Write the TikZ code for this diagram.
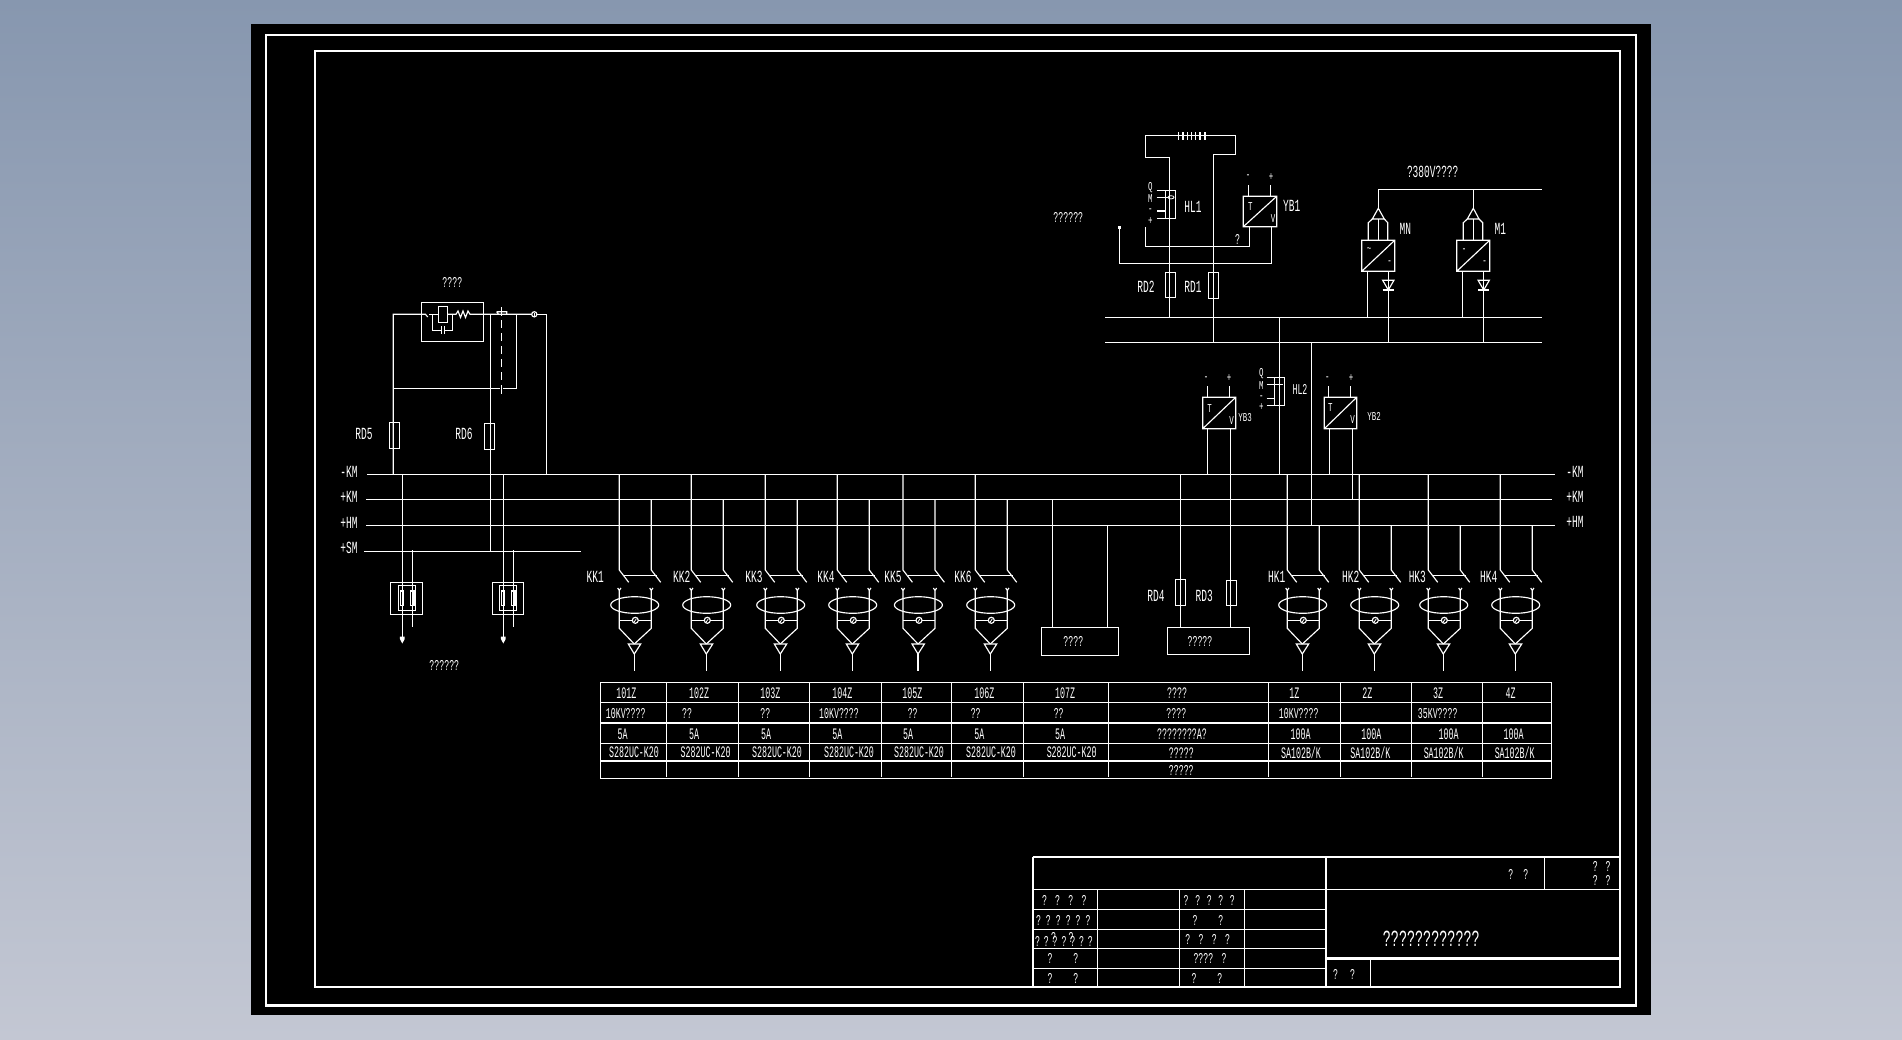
\documentclass[tikz,border=0pt]{standalone}
\usepackage{fontspec}
\setmainfont{Liberation Mono}
\definecolor{bgtop}{HTML}{8797AF}
\definecolor{bgbot}{HTML}{C3C7D3}
\newcommand{\gk}[1]{\kern#1pt\relax}
% feeder: x1, x2, bus y of second lead, label x, label, name
\newcommand{\feeder}[6]{%
  \draw[wire] (#1,474.3) -- (#1,570) -- (#1+9.4,582.3);
  \draw[wire] (#2,#3) -- (#2,570) -- (#2+9.4,582.3);
  \draw[wire] (#1+5,575.7) -- (#2+5.4,575.7);
  \node (lab#6) at (#4,577) [cadA] {#5};
  \draw[wire] (#1-1.6,588) -- (#1,590.5) -- (#1+1.6,588) (#1,590.5) -- (#1,628.3) -- (#1+15,644);
  \draw[wire] (#2-1.6,588) -- (#2,590.5) -- (#2+1.6,588) (#2,590.5) -- (#2,628.3) -- (#1+15,644);
  \draw[wire] (#1+15.4,605) ellipse [x radius=24pt,y radius=8.3pt];
  \draw[wire] (#1,620.3) -- (#2,620.3);
  \filldraw[wire,fill=black] (#1+16,620.3) circle [radius=3pt];
  \draw[thinwire] (#1+15,621.8) -- (#1+17,618.8);
  \draw[wire] (#1+9,644) -- (#1+21.4,644) -- (#1+15,654) -- cycle;
  \draw[wire] (#1+15,654) -- (#1+15,670.7);
}
% relay / meter symbol: x1, x2, y1, y2
\newcommand{\transducer}[4]{\draw[wire] (#1,#3) rectangle (#2,#4) (#1,#4) -- (#2,#3);}
\tikzset{
  wire/.style={draw=white,line width=1.15pt},
  thinwire/.style={draw=white,line width=.8pt},
  dashwire/.style={draw=white,line width=1.15pt,dash pattern=on 8pt off 5pt},
  framewire/.style={draw=white,line width=2.4pt},
  cadbase/.style={text=white,inner sep=0pt,transform shape},
  cadA/.style={cadbase,xscale=.56,font=\fontsize{17}{17}\selectfont},
  cadB/.style={cadbase,xscale=.52,font=\fontsize{16}{16}\selectfont},
  cadC/.style={cadbase,xscale=.55,font=\fontsize{15}{15}\selectfont},
  cadD/.style={cadbase,xscale=.62,font=\fontsize{12}{12}\selectfont},
  cadE/.style={cadbase,xscale=.585,font=\fontsize{23}{23}\selectfont},
}
\begin{document}
\begin{tikzpicture}[x=1pt,y=-1pt]
\useasboundingbox (0,0) rectangle (1902,1039);
\shade[top color=bgtop,bottom color=bgbot] (0,0) rectangle (1902,1039);
\fill[black] (251,24) rectangle (1651,1015);
\draw[framewire] (265.7,35) rectangle (1636,1005.6);
\draw[framewire] (315,51) rectangle (1620,987);

% ---- buses
\draw[wire] (367,474.3) -- (1555,474.3);
\draw[wire] (366,499.3) -- (1552,499.3);
\draw[wire] (366,525.3) -- (1555,525.3);
\draw[wire] (364,551.3) -- (581,551.3);
\node (lKMl) at (349,472) [cadA] {-KM};
\node (lKPl) at (349,497) [cadA] {+KM};
\node (lHMl) at (349,523) [cadA] {+HM};
\node (lSMl) at (349,547.5) [cadA] {+SM};
\node (lKMr) at (1575,472) [cadA] {-KM};
\node (lKPr) at (1575,497) [cadA] {+KM};
\node (lHMr) at (1575,522) [cadA] {+HM};

% ---- left relay circuit
\draw[wire] (421.3,302.3) rectangle (483.7,341.7);
\draw[wire] (438.3,306.7) rectangle (447.7,322.7);
\draw[wire] (546.7,474.3) -- (546.7,314.3) -- (537,314.3);
\draw[wire] (534.3,314.3) circle [radius=2.6pt];
\draw[thinwire] (534.3,312.8) -- (534.3,315.8);
\draw[wire] (531.7,314.3) -- (470,314.3) -- (468,311) -- (465.5,317.5) -- (463,311) -- (460.5,317.5) -- (458,311) -- (456,314.3) -- (447.7,314.3);
\draw[wire] (393.3,474.3) -- (393.3,314.3) -- (425.5,314.3) -- (427.7,317);
\draw[wire] (429,314.3) -- (438.3,314.3);
\draw[wire] (432.3,314.3) -- (432.3,330.3) -- (441.5,330.3) (444.5,330.3) -- (452.3,330.3) -- (452.3,314.3);
\draw[wire] (441.5,326.3) -- (441.5,334.3) (444.5,326.3) -- (444.5,334.3);
\draw[wire] (490.7,314.3) -- (490.7,551.3);
\draw[wire] (393.3,388.3) -- (499.5,388.3) (503,388.3) -- (516.7,388.3) -- (516.7,314.3);
\draw[wire] (501.7,386) -- (501.7,393.5);
\draw[dashwire] (501.7,307) -- (501.7,386);
\draw[wire] (496.7,311.7) -- (506.7,311.7) -- (506.7,314.3) (496.7,311.7) -- (498.5,314.3);
\draw[wire] (501.7,307) -- (501.7,316);
\draw[wire] (389.3,422.3) rectangle (399.7,448.7);
\draw[wire] (484.3,423.3) rectangle (494.7,449.3);
\node (lRD5) at (364,434.3) [cadA] {RD5};
\node (lRD6) at (464,434.3) [cadA] {RD6};
\node (lRelay) at (452.3,282.3) [cadC] {????};
\node (lContact) at (444.3,665) [cadC] {??????};

% ---- two lower left units
\foreach \pa/\pb/\oA/\oB/\iA/\iB in {402.3/412.3/390.3/422.7/398.3/415.7, 503.3/513.3/492.3/523.7/499.3/516.7}{
  \draw[wire] (\pa,474.3) -- (\pa,637);
  \fill[white] (\pa-2.4,636.5) -- (\pa+2.4,636.5) -- (\pa+2.4,639) -- (\pa,643.5) -- (\pa-2.4,639) -- cycle;
  \draw[wire] (\pb,550) -- (\pb,626.7);
  \draw[wire] (\oA,582.3) rectangle (\oB,614.3);
  \draw[wire] (\iA,585.7) rectangle (\iB,610.3);
  \draw[wire] (\pa-1.4,591) rectangle (\pa+1.4,605.7);
  \draw[wire] (\pb-1.7,591) rectangle (\pb+1.7,605.7);
}

% ---- top battery / monitor
\draw[wire] (1206,135.3) -- (1235.7,135.3) -- (1235.7,154.3) -- (1213.3,154.3) -- (1213.3,342.3);
\draw[wire] (1206,135.3) -- (1178,135.3) -- (1145.3,135.3) -- (1145.3,157.3) -- (1169.3,157.3) -- (1169.3,317.3);
\foreach \ba/\bb in {1178.2/1179.4,1181.7/1184,1186.6/1187.6,1190.6/1192,1194.8/1195.8,1199/1201,1204.4/1205.6}
  \fill[white] (\ba,131.7) rectangle (\bb,140);
\draw[wire] (1165.7,190.3) rectangle (1175.7,218.3);
\draw[wire] (1156.7,190.3) -- (1165.7,190.3) (1156.7,197.3) -- (1168,197.3) (1157,211) -- (1165.7,211) (1157,218.3) -- (1165.7,218.3);
\draw[thinwire] (1171,197.3) ellipse [x radius=3pt,y radius=1.6pt];
\node (lQ1) at (1150.3,187.3) [cadD] {Q};
\node (lM1) at (1150.3,198.7) [cadD] {M};
\node (lN1) at (1150.3,211) [cadD] {-};
\node (lP1) at (1150.3,221) [cadD] {+};
\node (lHL1) at (1193,207) [cadA] {HL1};
\transducer{1243.3}{1276.7}{196.3}{226.7}
\draw[wire] (1248.7,185) -- (1248.7,196.3) (1270.7,185) -- (1270.7,196.3);
\node (lmY1) at (1248,177) [cadD] {-};
\node (lpY1) at (1271,177) [cadD] {+};
\node (lT1) at (1250.3,206.7) [cadD] {T};
\node (lV1) at (1273,219) [cadD] {V};
\node (lYB1) at (1291.7,206.3) [cadA] {YB1};
\draw[wire] (1249.7,226.7) -- (1249.7,246.3) -- (1145.3,246.3) -- (1145.3,226.7);
\draw[wire] (1271.3,226.7) -- (1271.3,263.3) -- (1119.3,263.3) -- (1119.3,226.7);
\fill[white] (1118,226) rectangle (1120.6,228.5);
\node (lQmark) at (1237.7,239.3) [cadC] {?};
\node (lMonitor) at (1068.3,217) [cadC] {??????};
\draw[wire] (1165.3,272.7) rectangle (1175.7,297.7);
\draw[wire] (1208.3,272.7) rectangle (1218.7,298.7);
\node (lRD2) at (1146,287.3) [cadA] {RD2};
\node (lRD1) at (1193,287.3) [cadA] {RD1};
\draw[wire] (1105,317.3) -- (1542,317.3);
\draw[wire] (1105,342.3) -- (1542,342.3);
\draw[wire] (1279.3,317.3) -- (1279.3,474.3);
\draw[wire] (1311.7,342.3) -- (1311.7,525.3);

% ---- rectifier modules
\draw[wire] (1378.3,189.3) -- (1542,189.3);
\node (l380) at (1432.7,172.3) [cadA] {?380V????};
\foreach \cx/\bxa/\bxb/\lda/\ldb/\dia/\dib/\tra/\trb/\sym/\nm in {1378.3/1361.7/1394.7/1367.3/1388.3/1368.3/1387.7/1372.3/1384.3/\textasciitilde/MN, 1473.3/1456.7/1489.7/1462.7/1483.7/1463.3/1482.7/1467.3/1479/-/M1}{
  \draw[wire] (\cx,189.3) -- (\cx,208.3);
  \draw[wire] (\cx,208.3) -- (\tra,219) -- (\trb,219) -- cycle;
  \draw[wire] (\cx,219) -- (\cx,240.3);
  \draw[wire] (\tra,219) -- (\dia,222.7) -- (\dia,240.3);
  \draw[wire] (\trb,219) -- (\dib,222.7) -- (\dib,240.3);
  \transducer{\bxa}{\bxb}{240.3}{271.3}
  \draw[wire] (\lda,271.3) -- (\lda,317.3);
  \draw[wire] (\ldb,271.3) -- (\ldb,342.3);
  \draw[wire] (\ldb-5.6,280.3) -- (\ldb+5.6,280.3) -- (\ldb,290) -- cycle;
  \draw[wire] (\ldb-5.6,290) -- (\ldb+5.6,290);
  \node (lsym\nm) at (\bxa+7.5,250.5) [cadD] {\sym};
  \node (lneg\nm) at (\bxb-5,263) [cadD] {-};
  \node (lab\nm) at (\bxb+10.7,229) [cadA] {\nm};
}

% ---- HL2, YB3, YB2
\draw[wire] (1274.3,377.3) rectangle (1284.7,405.3);
\draw[wire] (1266.7,377.3) -- (1274.3,377.3) (1266.7,384.3) -- (1283,384.3) (1266.7,398.3) -- (1274.3,398.3) (1266.7,405.3) -- (1274.3,405.3);
\node (lQ2) at (1261.3,373.3) [cadD] {Q};
\node (lM2) at (1261.3,385.3) [cadD] {M};
\node (lN2) at (1261.3,398) [cadD] {-};
\node (lP2) at (1261.3,407) [cadD] {+};
\node (lHL2) at (1300,389.7) [cadC] {HL2};
\transducer{1202.7}{1235.7}{397.3}{428.7}
\draw[wire] (1207.3,386) -- (1207.3,397.3) (1229.3,386) -- (1229.3,397.3);
\node (lmY3) at (1206,378.3) [cadD] {-};
\node (lpY3) at (1229,378.3) [cadD] {+};
\node (lT3) at (1209.7,408.3) [cadD] {T};
\node (lV3) at (1231.7,421) [cadD] {V};
\node (lYB3) at (1245,417.3) [cadD] {YB3};
\draw[wire] (1207.3,428.7) -- (1207.3,474.3);
\draw[wire] (1230.3,428.7) -- (1230.3,627.3);
\transducer{1324.3}{1356.7}{397.3}{428.7}
\draw[wire] (1328.3,386) -- (1328.3,397.3) (1350.3,386) -- (1350.3,397.3);
\node (lmY2) at (1327.3,378.3) [cadD] {-};
\node (lpY2) at (1351,378.3) [cadD] {+};
\node (lT2) at (1330.3,408) [cadD] {T};
\node (lV2) at (1352.7,420) [cadD] {V};
\node (lYB2) at (1374,416.7) [cadD] {YB2};
\draw[wire] (1329.3,428.7) -- (1329.3,474.3);
\draw[wire] (1352.7,428.7) -- (1352.7,499.3);

% ---- feeders
\feeder{619.3}{651.3}{499.3}{595.3}{KK1}{KK1}
\feeder{691.3}{723.3}{499.3}{681.7}{KK2}{KK2}
\feeder{765.3}{797.3}{499.3}{754}{KK3}{KK3}
\feeder{837.3}{869.3}{499.3}{826}{KK4}{KK4}
\feeder{903}{935}{499.3}{893}{KK5}{KK5}
\feeder{975.3}{1007.3}{499.3}{963}{KK6}{KK6}
\feeder{1287.3}{1319.3}{525.3}{1276.7}{HK1}{HK1}
\feeder{1359.3}{1391.3}{525.3}{1350.7}{HK2}{HK2}
\feeder{1428.3}{1460.3}{525.3}{1417.3}{HK3}{HK3}
\feeder{1500.3}{1532.3}{525.3}{1488.7}{HK4}{HK4}

% ---- two central boxes
\draw[wire] (1052.3,499.3) -- (1052.3,627.3);
\draw[wire] (1107.3,525.3) -- (1107.3,627.3);
\draw[wire] (1041.3,627.3) rectangle (1118.7,655.3);
\node (lBoxA) at (1073.3,641.3) [cadC] {????};
\draw[wire] (1180.3,474.3) -- (1180.3,627.3);
\draw[wire] (1167.3,627.3) rectangle (1249.7,654.3);
\node (lBoxB) at (1200,641.7) [cadC] {?????};
\draw[wire] (1175.3,579.3) rectangle (1185.7,605.7);
\draw[wire] (1226.3,580.3) rectangle (1236.7,605.7);
\node (lRD4) at (1156,596) [cadA] {RD4};
\node (lRD3) at (1204.3,596) [cadA] {RD3};

% ---- table
\draw[wire] (600.3,682.3) rectangle (1551.7,778.3);
\foreach \yy in {702.3,723,743.3,761} \draw[wire] (600.3,\yy) -- (1551.7,\yy);
\foreach \xx in {666.3,738.3,809.3,881.3,951.3,1023.3,1108.3,1268.7,1340.3,1411.7,1482.7} \draw[wire] (\xx,682.3) -- (\xx,777);
\foreach \xx/\tx [count=\i] in {626.3/101Z,699/102Z,770.3/103Z,842.3/104Z,912.3/105Z,984.3/106Z,1065/107Z,1177/????,1294.3/1Z,1367.3/2Z,1438/3Z,1510.7/4Z}
  \node (ra\i) at (\xx,693.3) [cadB] {\tx};
\foreach \xx/\tx [count=\i] in {625.7/10KV????,687/??,765.3/??,839/10KV????,912.7/??,975.7/??,1058.7/??,1176.3/????,1298.7/10KV????,1437.7/35KV????}
  \node (rb\i) at (\xx,713.3) [cadC] {\tx};
\foreach \xx/\tx [count=\i] in {622.7/5A,694/5A,766/5A,837.3/5A,908/5A,979.3/5A,1060/5A,1182/????????A?,1300.7/100A,1371.3/100A,1448.7/100A,1513.7/100A}
  \node (rc\i) at (\xx,734.3) [cadB] {\tx};
\foreach \xx/\tx [count=\i] in {634/S282UC-K20,705.7/S282UC-K20,777/S282UC-K20,849/S282UC-K20,919/S282UC-K20,991/S282UC-K20,1071.7/S282UC-K20,1181.3/?????,1301/{SA102B/K},1370.3/{SA102B/K},1443.7/{SA102B/K},1514.7/{SA102B/K}}
  \node (rd\i) at (\xx,752.7) [cadB] {\tx};
\node (re1) at (1181.3,770) [cadC] {?????};

% ---- title block
\draw[framewire] (1032.7,856.7) -- (1620,856.7);
\draw[framewire] (1032.7,856.7) -- (1032.7,987);
\draw[framewire] (1325.7,856.7) -- (1325.7,987);
\draw[wire] (1032.7,889.3) -- (1620,889.3);
\foreach \yy in {909.3,929.3,948.7,968.3} \draw[wire] (1032.7,\yy) -- (1325.7,\yy);
\foreach \xx in {1097.3,1179.7,1244.7} \draw[wire] (\xx,889.3) -- (\xx,987);
\draw[framewire] (1325.7,958.3) -- (1620,958.3);
\draw[wire] (1370.7,958.3) -- (1370.7,987);
\draw[wire] (1544.3,856.7) -- (1544.3,889.3);
\node (tTitle) at (1431.3,938.3) [cadE] {????????????};
\node (tA) at (1518.3,874) [cadC] {?\gk{18}?};
\node (tB) at (1601.7,866) [cadC] {?\gk{14}?};
\node (tC) at (1601.7,880.7) [cadC] {?\gk{14}?};
\node (tD) at (1344,974) [cadC] {?\gk{22}?};
\node (t11) at (1064.3,900.7) [cadC] {?\gk{15}?\gk{15}?\gk{15}?};
\node (t12) at (1063.3,920) [cadC] {?\gk{9}?\gk{9}?\gk{9}?\gk{9}?\gk{9}?};
\node (t13) at (1064,939.3) [cadC] {?\gk{7}?\gk{7}\rlap{\kern-3pt\raisebox{4.5pt}{?}}?\gk{7}?\gk{7}\rlap{\kern-3pt\raisebox{4.5pt}{?}}?\gk{7}?\gk{7}?};
\node (t14) at (1063,958.7) [cadC] {?\gk{38}?};
\node (t15) at (1063,978.3) [cadC] {?\gk{38}?};
\node (t31) at (1209.3,900.7) [cadC] {?\gk{12}?\gk{12}?\gk{12}?\gk{12}?};
\node (t32) at (1208,920) [cadC] {?\gk{38}?};
\node (t33) at (1207.7,939.3) [cadC] {?\gk{15}?\gk{15}?\gk{15}?};
\node (t34) at (1210,958.7) [cadC] {????\gk{15}?};
\node (t35) at (1207,978.3) [cadC] {?\gk{38}?};
\end{tikzpicture}
\end{document}
